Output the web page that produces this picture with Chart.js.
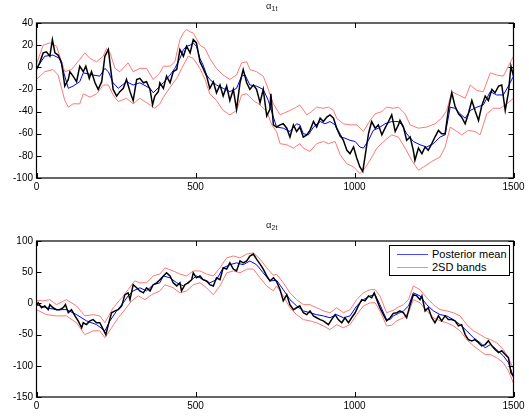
<!DOCTYPE html>
<html><head><meta charset="utf-8">
<script src="https://cdn.jsdelivr.net/npm/chart.js@4.4.1/dist/chart.umd.min.js"></script>
<style>
html,body{margin:0;padding:0;background:#fff;}
#wrap{position:relative;width:529px;height:417px;overflow:hidden;font-family:"Liberation Sans",Arial,sans-serif;}
canvas{position:absolute;left:0;}
.ttl{position:absolute;color:#222;white-space:nowrap;}
.ttl .a{position:absolute;font-size:9.5px;line-height:9px;}
.ttl .s{position:absolute;font-size:7px;line-height:7px;}
#legend{position:absolute;left:389px;top:245px;width:119px;height:29px;border:1px solid #000;background:#fff;font-size:11px;color:#000;}
#legend .ln{position:absolute;left:7px;width:31px;height:0;}
#legend .tx{position:absolute;left:42px;line-height:11px;}
</style></head>
<body>
<div id="wrap">
<canvas id="c1" width="529" height="208" style="top:0"></canvas>
<canvas id="c2" width="529" height="209" style="top:208px"></canvas>
<div class="ttl" style="left:266px;top:0"><span class="a" style="left:0;top:1px">α</span><span class="s" style="left:5.5px;top:5px">1t</span></div>
<div class="ttl" style="left:266px;top:219px"><span class="a" style="left:0;top:1px">α</span><span class="s" style="left:5.5px;top:5px">2t</span></div>
<div id="legend">
  <div class="ln" style="top:8px;border-top:1px solid #4a4aff"></div><div class="tx" style="top:3px">Posterior mean</div>
  <div class="ln" style="top:21px;border-top:1px solid #ff8a8a"></div><div class="tx" style="top:16px">2SD bands</div>
</div>
</div>
<script>
// ---- alpha_1t ----
const a1TruthT=[0,10,21,31,42,50,58,68,79,89,100,105,115,126,136,147,155,166,173,184,194,205,215,226,231,241,252,262,273,283,294,304,315,325,336,346,357,365,372,383,388,399,409,420,430,441,451,462,472,483,493,503,514,524,535,545,556,566,577,587,598,608,619,629,640,650,661,671,682,692,703,713,724,734,737,745,755,766,776,787,797,808,818,828,839,850,860,871,881,892,902,913,923,934,944,955,965,976,986,997,1007,1017,1026,1033,1044,1054,1065,1075,1086,1096,1107,1117,1128,1138,1143,1154,1164,1175,1185,1190,1201,1212,1222,1232,1243,1253,1264,1274,1285,1295,1306,1316,1327,1337,1348,1358,1369,1379,1390,1400,1411,1421,1432,1442,1453,1463,1474,1484,1492,1500];
const a1TruthV=[-2,4,13,14,10,25,13,11,4,-17,-11,-4,-8,-13,1,-4,1,-10,-4,-14,-20,-13,10,16,4,-20,-26,-22,-19,-11,-22,-30,-11,-10,-14,-13,-20,-34,-26,-22,-14,-19,-8,-14,-4,-2,16,10,19,13,25,22,5,-1,-8,-19,-13,-23,-16,-26,-17,-30,-20,-38,-14,-2,-14,-20,-16,-20,-32,-20,-44,-38,-24,-52,-54,-52,-51,-55,-63,-52,-58,-54,-63,-61,-57,-49,-54,-46,-49,-45,-43,-46,-55,-61,-66,-75,-78,-72,-82,-90,-94,-81,-60,-49,-55,-52,-61,-55,-49,-43,-58,-52,-48,-54,-66,-63,-75,-84,-73,-78,-72,-75,-69,-63,-57,-60,-60,-39,-23,-35,-42,-45,-51,-42,-30,-39,-48,-35,-26,-30,-20,-23,-17,-16,-39,-23,1,-8];
const a1MeanT=[0,26,52,73,100,115,136,147,178,199,215,226,241,257,283,304,325,357,367,399,420,435,451,462,472,483,493,503,514,524,535,545,566,587,608,629,645,656,671,692,713,729,745,755,776,797,818,828,839,855,871,892,907,923,939,955,970,986,1002,1017,1028,1044,1059,1075,1096,1117,1138,1149,1164,1185,1206,1227,1248,1269,1285,1301,1316,1332,1348,1364,1385,1405,1427,1447,1468,1484,1500];
const a1MeanV=[-1,10,11,8,-19,-17,-13,-5,-7,-8,-1,-4,-14,-19,-13,-16,-14,-19,-23,-14,-7,-1,8,16,19,20,22,19,8,2,-7,-11,-16,-19,-22,-19,-8,-7,-16,-17,-20,-30,-45,-54,-55,-58,-51,-52,-60,-61,-54,-49,-51,-49,-52,-63,-64,-66,-67,-72,-73,-66,-57,-55,-51,-49,-49,-52,-60,-67,-70,-72,-69,-63,-61,-36,-37,-42,-46,-39,-36,-34,-22,-25,-25,-17,-8];
const a1UpT=[0,21,42,63,89,110,136,152,168,189,210,220,231,247,262,288,304,325,346,367,388,399,420,435,451,462,472,483,493,503,514,530,545,566,587,608,629,645,661,671,692,713,724,745,766,797,818,828,850,865,881,902,918,934,944,965,986,1007,1028,1049,1065,1086,1101,1122,1138,1159,1175,1201,1227,1253,1274,1290,1306,1327,1348,1364,1385,1405,1427,1447,1468,1484,1500];
const a1UpV=[3,20,22,19,-4,-2,7,13,8,5,10,17,13,-1,-4,4,-4,-1,-1,-11,-5,1,1,5,25,31,34,32,31,26,20,17,8,-1,-7,-11,-7,4,5,-2,-4,-8,-16,-33,-43,-39,-36,-34,-43,-40,-36,-37,-36,-39,-46,-51,-52,-52,-58,-48,-42,-40,-36,-37,-36,-42,-52,-55,-54,-51,-46,-39,-22,-25,-28,-16,-21,-22,-5,-7,-8,1,10];
const a1LoT=[0,26,52,68,89,100,115,136,147,168,189,210,226,241,257,283,304,325,357,372,388,399,420,441,462,477,493,514,530,545,566,587,608,629,645,661,682,703,724,740,755,766,787,808,828,839,860,881,902,918,939,955,975,997,1017,1033,1049,1070,1096,1117,1138,1159,1180,1201,1217,1243,1269,1285,1301,1322,1337,1358,1379,1395,1416,1437,1458,1479,1500];
const a1LoV=[-11,-4,-2,-7,-30,-36,-33,-33,-24,-27,-24,-16,-16,-25,-31,-28,-33,-28,-34,-37,-33,-27,-18,-10,2,10,8,-1,-11,-24,-30,-39,-43,-39,-25,-24,-30,-34,-40,-52,-58,-69,-70,-73,-69,-73,-76,-69,-67,-69,-67,-79,-87,-90,-96,-91,-84,-73,-66,-61,-63,-73,-84,-93,-90,-85,-81,-72,-54,-58,-61,-57,-58,-61,-42,-37,-37,-33,-28];
const a1Ticks=[-100,-80,-60,-40,-20,0,20,40];
// ---- alpha_2t ----
const a2TruthT=[0,5,16,26,37,42,52,63,73,84,91,100,110,121,131,142,147,157,168,178,189,199,210,218,226,236,247,257,268,278,288,294,304,315,325,336,346,357,367,378,388,399,409,420,430,441,451,456,467,477,488,493,503,514,524,535,545,556,566,577,587,598,608,619,629,640,650,661,671,682,692,703,713,724,734,745,755,766,776,787,797,808,818,828,839,850,860,871,881,892,902,918,928,939,949,960,970,981,991,1002,1012,1023,1033,1044,1054,1062,1070,1080,1091,1101,1112,1122,1133,1143,1154,1164,1175,1185,1196,1206,1212,1222,1232,1243,1253,1264,1274,1285,1295,1306,1316,1327,1337,1348,1358,1369,1379,1390,1400,1411,1421,1432,1442,1453,1463,1474,1484,1492,1500];
const a2TruthV=[-4,1,-7,-4,-10,-2,-7,-10,-10,-7,-2,-15,-10,-20,-28,-39,-31,-34,-28,-26,-31,-31,-42,-50,-34,-15,-12,-10,-4,14,17,6,30,25,20,17,25,20,30,33,38,44,49,44,33,28,33,20,30,33,38,49,41,44,38,36,30,28,41,38,57,55,65,55,52,68,65,68,76,79,71,63,55,44,36,41,35,22,4,14,-2,-10,-7,-4,-15,-18,-12,-20,-23,-26,-28,-34,-26,-18,-26,-31,-23,-31,-23,-15,-4,6,4,12,9,17,6,-7,-18,-28,-23,-16,-15,-12,-15,-23,-2,14,12,6,12,-12,-7,-23,-31,-20,-28,-20,-26,-26,-28,-36,-34,-50,-58,-60,-58,-63,-68,-66,-60,-68,-74,-79,-76,-82,-87,-111,-117];
const a2MeanT=[0,31,63,94,126,157,189,215,231,252,273,288,304,325,346,367,388,399,420,441,462,483,503,524,545,566,587,608,629,650,671,692,713,734,755,776,797,818,839,860,881,902,923,944,965,986,1007,1028,1049,1065,1080,1101,1112,1122,1138,1154,1170,1185,1206,1227,1248,1269,1290,1311,1332,1353,1374,1395,1411,1427,1447,1468,1484,1500];
const a2MeanV=[-2,-7,-10,-10,-18,-28,-34,-44,-28,-12,1,12,20,25,20,30,33,44,41,33,28,36,44,38,33,38,57,62,65,62,68,62,49,36,37,22,6,-4,-12,-15,-18,-20,-23,-18,-23,-20,-4,6,12,14,-2,-26,-26,-20,-16,-12,-4,17,12,-2,-12,-18,-20,-26,-34,-44,-55,-63,-71,-66,-74,-84,-95,-118];
const a2UpT=[0,21,42,63,94,126,152,178,199,215,241,268,288,309,325,346,367,388,404,430,451,472,493,514,535,556,577,598,619,640,661,682,703,724,745,755,776,797,818,839,860,881,902,923,944,965,986,1007,1028,1049,1065,1080,1101,1122,1138,1154,1170,1185,1206,1227,1248,1269,1290,1311,1332,1353,1374,1395,1411,1427,1447,1468,1484,1500];
const a2UpV=[5,4,6,-2,6,-4,-20,-18,-20,-31,-7,9,22,36,33,33,44,47,57,52,47,44,52,52,47,44,57,73,76,73,79,81,71,57,45,47,33,17,6,-2,-2,-7,-12,-15,-7,-15,-10,6,17,22,22,12,-15,-11,-6,-2,6,28,22,9,-2,-10,-12,-15,-20,-34,-44,-50,-55,-58,-63,-74,-87,-105];
const a2LoT=[0,31,63,94,126,152,178,199,215,236,257,278,299,320,341,362,388,404,430,451,472,493,514,535,556,577,598,619,640,661,682,703,724,745,755,776,797,818,839,860,881,902,923,944,965,986,1007,1028,1049,1065,1080,1101,1117,1133,1154,1170,1185,1206,1227,1248,1269,1290,1311,1332,1353,1374,1395,1411,1427,1447,1468,1484,1500];
const a2LoV=[-10,-18,-20,-20,-31,-50,-44,-44,-55,-39,-23,-10,4,12,6,14,20,30,25,17,20,30,33,25,14,28,49,52,49,55,55,41,28,20,28,12,-7,-18,-26,-28,-31,-36,-42,-34,-39,-34,-18,-4,1,1,-12,-36,-35,-28,-23,-15,6,1,-12,-23,-28,-31,-36,-44,-58,-68,-76,-82,-82,-87,-95,-108,-128];
const a2Ticks=[-150,-100,-50,0,50,100];
const xTicks=[0,500,1000,1500];

const pts=(t,v)=>t.map((x,i)=>({x:x,y:v[i]}));
const FONT={family:"'Liberation Sans', Arial, sans-serif",size:10};
const plain=v=>String(v);

const framePlugin={
  id:'frame',
  afterDatasetsDraw(chart){
    const {ctx,chartArea:a,scales}=chart;
    const x=scales.x,y=scales.y,L=5;
    ctx.save();
    ctx.strokeStyle='#000';ctx.lineWidth=1;
    ctx.beginPath();
    x.ticks.forEach(t=>{const p=Math.round(x.getPixelForValue(t.value))+0.5;
      ctx.moveTo(p,a.bottom);ctx.lineTo(p,a.bottom-L);ctx.moveTo(p,a.top);ctx.lineTo(p,a.top+L);});
    y.ticks.forEach(t=>{const p=Math.round(y.getPixelForValue(t.value))+0.5;
      ctx.moveTo(a.left,p);ctx.lineTo(a.left+L,p);ctx.moveTo(a.right,p);ctx.lineTo(a.right-L,p);});
    ctx.stroke();
    ctx.lineWidth=1.2;
    ctx.strokeRect(a.left,a.top,a.right-a.left,a.bottom-a.top);
    ctx.restore();
  }
};

function makeChart(id,truth,mean,up,lo,ymin,ymax,yTicks,padTop,xh){
  return new Chart(document.getElementById(id),{
    type:'line',
    data:{datasets:[
      {label:'truth',data:truth,borderColor:'#000',borderWidth:1.5},
      {label:'Posterior mean',data:mean,borderColor:'#0000ff',borderWidth:1},
      {label:'2SD bands',data:up,borderColor:'#ff7878',borderWidth:1},
      {label:'2SD lower',data:lo,borderColor:'#ff7878',borderWidth:1}
    ]},
    options:{
      responsive:false,animation:false,devicePixelRatio:1,
      elements:{point:{radius:0},line:{tension:0}},
      layout:{padding:{left:0,right:15.5,top:padTop,bottom:0}},
      plugins:{legend:{display:false},tooltip:{enabled:false},title:{display:false}},
      scales:{
        x:{type:'linear',min:0,max:1500,
          afterBuildTicks:s=>{s.ticks=xTicks.map(v=>({value:v}));},
          afterFit:s=>{s.height=xh;},
          ticks:{font:FONT,color:'#000',padding:3,maxRotation:0,autoSkip:false,callback:plain},
          grid:{display:false,drawTicks:false},border:{display:false}},
        y:{type:'linear',min:ymin,max:ymax,
          afterBuildTicks:s=>{s.ticks=yTicks.map(v=>({value:v}));},
          afterFit:s=>{s.width=36.5;},
          ticks:{font:FONT,color:'#000',padding:3.5,autoSkip:false,callback:plain},
          grid:{display:false,drawTicks:false},border:{display:false}}
      }
    },
    plugins:[framePlugin]
  });
}
makeChart('c1',pts(a1TruthT,a1TruthV),pts(a1MeanT,a1MeanV),pts(a1UpT,a1UpV),pts(a1LoT,a1LoV),-100,40,a1Ticks,23,30);
makeChart('c2',pts(a2TruthT,a2TruthV),pts(a2MeanT,a2MeanV),pts(a2UpT,a2UpV),pts(a2LoT,a2LoV),-150,100,a2Ticks,33,20);
</script>
</body></html>
